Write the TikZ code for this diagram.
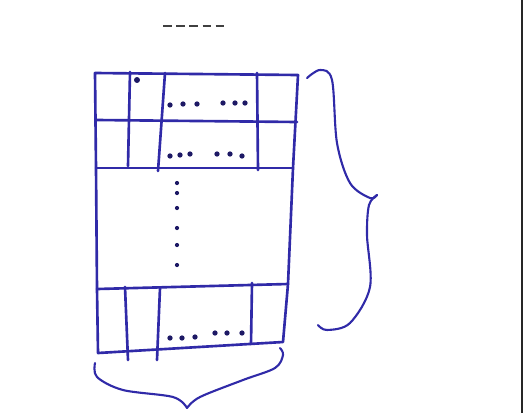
\documentclass[tikz,border=0pt]{standalone}
\usepackage{xcolor}
\usepackage{tikz}
\usetikzlibrary{positioning}

\definecolor{tinta}{RGB}{48,42,168}

\begin{document}
\begin{tikzpicture}[
        x=0.02cm, y=-0.02cm,
        traco/.style={draw=tinta, line width=1.5pt, line cap=round, line join=round},
        chave/.style={traco, line width=1.2pt, smooth, tension=0.55},
        ponto/.style={circle, fill=tinta!60!black, inner sep=0pt, minimum size=3pt}
    ]
    \useasboundingbox (0,0) rectangle (526,413);

    % resto de texto cortado no topo
    \draw[black!75, line width=1pt, dash pattern=on 5pt off 2.5pt] (163,26) -- (226,26);

    % borda da folha
    \draw[black!85, line width=0.9pt] (522,0) -- (522,413);

    % contorno da tabela
    \draw[traco] (95,73) -- (298,75) -- (293,168) -- (288,284) -- (283,342) -- (98,353) -- (97,289) -- (96,168) -- cycle;

    % bloco de cima
    \draw[traco] (97,120) -- (297,122);
    \draw[traco] (96,168) -- (293,168);
    \draw[traco] (130,72) -- (128,166);
    \draw[traco] (165,73) -- (158,171);
    \draw[traco] (257,73) -- (258,170);

    % bloco de baixo
    \draw[traco] (97,289) -- (288,284);
    \draw[traco] (125,287) -- (128,360);
    \draw[traco] (160,288) -- (157,360);
    \draw[traco] (252,283) -- (251,344);

    % pontinhos
    \node[ponto, minimum size=3.4pt] (p0) at (137,80) {};
    \foreach \px/\py [count=\i] in {170/105,183/104,197/104,223/103,235/103,245/103,
                                    170/156,180/155,190/154,217/154,230/154,242/156,
                                    170/338,182/338,195/337,215/333,227/333,242/333}
        \node[ponto] (d\i) at (\px,\py) {};
    \foreach \py [count=\i] in {183,193,208,228,245,265}
        \node[ponto, minimum size=2.4pt] (v\i) at (177,\py) {};

    % chave da direita
    \draw[chave] plot coordinates {(307,78) (320,70) (332,80) (337,143) (350,183) (370,198) (377,195)};
    \draw[chave] plot coordinates {(377,195) (369,205) (367,235) (370,287) (350,323) (327,330) (318,325)};

    % chave de baixo
    \draw[chave] plot coordinates {(95,363) (97,377) (123,390) (173,397) (187,408)};
    \draw[chave] plot coordinates {(187,408) (200,397) (243,380) (275,368) (283,355) (280,348)};
\end{tikzpicture}
\end{document}
